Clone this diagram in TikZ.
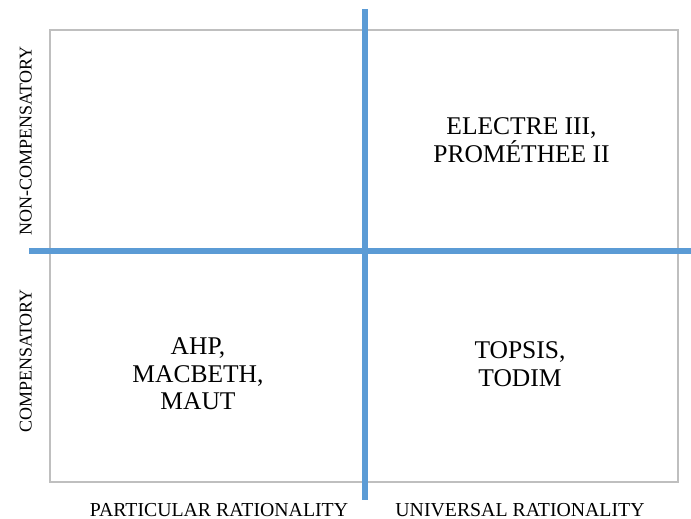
\documentclass[tikz,border=0pt]{standalone}
\usepackage{fontspec}
\setmainfont{Liberation Serif}
\usetikzlibrary{positioning}
\definecolor{axisblue}{RGB}{91,155,213}
\definecolor{framegray}{RGB}{191,191,191}

\begin{document}
\begin{tikzpicture}[x=1pt,y=-1pt,
			every node/.style={inner sep=0pt,text=black},
			frame/.style={draw=framegray,line width=1.3pt},
			axisline/.style={draw=axisblue,line width=5.5pt},
			method/.style={align=center,anchor=north,font=\fontsize{25.5}{27.5}\selectfont},
			xlabel/.style={anchor=base,font=\fontsize{19.8}{22}\selectfont},
			ylabel/.style={anchor=base,rotate=90,font=\fontsize{18}{20}\selectfont}
			]
		\useasboundingbox (0,0) rectangle (691,519);
		\coordinate (nw) at (50,30);
		\coordinate (se) at (678,482);
		\draw[frame] (nw) rectangle (se);
		% the two axes
		\coordinate (vtop) at (365,9.5);
		\coordinate (vbot) at (365,500);
		\coordinate (hleft) at (29,251);
		\coordinate (hright) at (691,251);
		\draw[axisline] (vtop) -- (vbot);
		\draw[axisline] (hleft) -- (hright);
		% quadrants
		\node[method] (q1) at (521.5,117.5) {ELECTRE III,\\PROMÉTHEE II};
		\node[method] (q3) at (198,337.5) {AHP,\\MACBETH,\\MAUT};
		\node[method] (q4) at (520,341.5) {TOPSIS,\\TODIM};
		% axis labels
		\node[xlabel] (particular) at (219,516) {PARTICULAR RATIONALITY};
		\node[xlabel] (universal) at (520,516) {UNIVERSAL RATIONALITY};
		\node[ylabel] (noncomp) at (31.5,141) {NON-COMPENSATORY};
		\node[ylabel] (comp) at (31.5,361) {COMPENSATORY};
	\end{tikzpicture}
\end{document}
